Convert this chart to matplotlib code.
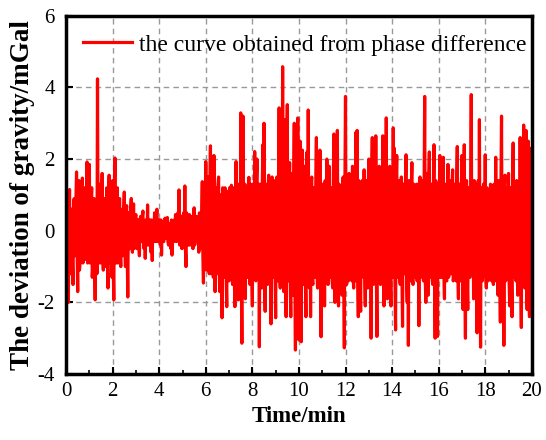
import numpy as np
import matplotlib
matplotlib.use('Agg')
import matplotlib.pyplot as plt
from matplotlib.ticker import MultipleLocator

# desviacion de gravedad (mGal), una fila por minuto
# g_rows: muestras en t = m + 0.05k ; g_half: muestras en t = m + 0.05k + 0.025
g_rows = [
    [0.3, 1.1, -2.0, 1.15, -1.2, 0.6, -1.5, 0.9, -0.4, 1.64, -1.7, 1.4, -0.9, 0.8, 1.47, -0.8, 1.2, -0.5, 1.92, -0.6],
    [1.85, -0.7, 1.2, -1.0, 0.9, -1.93, 0.5, 4.24, -0.9, 1.3, -0.6, 1.6, -1.1, 0.9, -0.5, 1.2, -1.6, 1.55, -0.8, 0.7],
    [1.4, -1.93, 2.03, -0.9, 1.2, -0.6, 0.9, -1.0, 0.6, -0.5, 1.08, -1.0, 0.7, -1.85, 0.5, -0.3, 0.9, -0.6, 0.75, -0.4],
    [0.45, -0.5, 0.3, -0.7, 0.4, -0.3, 0.55, -0.5, -0.77, 0.3, 0.72, -0.4, 0.3, -0.6, -0.83, 0.2, 0.5, -0.3, 0.6, -0.2],
    [0.3, -0.4, -0.68, 0.2, -0.3, 0.35, -0.2, 0.37, -0.4, 0.2, -0.5, -0.68, 0.1, 0.3, 0.45, -0.3, 0.5, 1.14, -0.2, 0.4],
    [-0.2, 0.5, 1.25, -1.0, 0.3, -0.4, 0.45, -0.3, 0.3, -0.5, 0.64, -0.2, 0.4, -0.3, -0.6, 0.4, -0.3, 1.37, -1.46, 0.8],
    [1.93, -1.0, 1.5, -1.2, 2.37, -1.1, 1.4, 2.1, -1.7, 1.2, -0.9, 1.5, -1.7, 0.9, -2.43, 1.15, -1.3, 1.0, -2.12, 1.0],
    [-1.4, 1.1, 1.27, -1.5, 0.9, -2.12, 1.93, -1.2, -1.93, 1.3, 3.29, -3.14, 3.2, -1.0, -1.9, 1.2, -1.3, 1.49, -1.5, 1.2],
    [-2.1, 1.0, 2.21, -1.4, 2.0, -1.2, -3.24, 1.3, -1.6, 2.4, 3.0, -2.25, 1.2, -1.5, 1.55, -1.0, -2.6, 1.5, -1.3, 1.1],
    [-2.43, 1.5, -1.2, 3.43, -1.6, 1.8, 4.58, -1.7, 3.1, -2.4, 3.52, -1.4, 1.9, -2.4, 1.6, -1.8, 3.0, -3.33, 1.4, 3.15],
    [-3.05, 2.5, -3.1, 2.25, -1.5, 1.8, -2.4, 2.2, 3.37, -1.6, -2.4, 1.5, -1.5, 1.2, -1.0, 2.6, -1.6, 1.4, 2.25, -2.96],
    [1.3, -1.4, -2.1, 1.2, 2.0, -1.5, 1.8, -1.2, 1.1, -1.6, 2.7, -2.0, 1.4, 2.8, -2.1, 1.2, -1.3, -1.8, 1.5, -3.27],
    [3.75, -1.5, 1.2, 1.6, -1.3, 1.0, 1.8, -1.6, 1.2, 2.75, 2.8, -2.4, 1.3, -2.25, -1.2, 1.4, 1.7, -2.1, 1.1, -1.6],
    [2.0, -1.4, -3.0, 2.6, -1.5, 1.3, 2.65, -2.95, 1.2, 1.8, -1.5, 1.0, 2.65, -2.1, 1.4, 3.15, -1.9, 1.1, 1.8, -2.1],
    [1.2, 2.87, 2.3, -2.77, 2.1, -1.3, 1.1, -1.5, 1.5, -2.67, 1.3, -1.2, 2.12, -2.0, -3.2, 1.0, -1.4, 1.9, -1.5, 1.0],
    [-1.3, 1.3, -1.1, -2.65, 1.5, -1.2, 1.0, -1.4, 3.75, -2.0, 1.6, -1.8, 2.2, -1.3, 1.2, -1.5, 2.4, -3.0, 1.3, -2.95],
    [1.2, 2.1, -1.3, 1.0, 2.05, -1.9, 1.1, -1.4, 1.85, -1.2, 1.0, -0.9, 1.7, -1.3, 1.3, -1.4, 2.35, -1.9, 1.3, -1.2],
    [2.1, -2.2, 2.4, -3.0, 1.4, -2.2, 1.2, -1.3, 3.8, -1.1, -1.9, 1.3, -1.2, -2.85, 1.4, 3.1, -3.25, 1.0, -1.0, 1.3],
    [2.12, -1.6, 1.0, 0.9, -1.0, 1.1, -0.9, -1.5, 1.2, 2.05, -1.2, -1.8, 1.0, -2.55, 3.2, -1.4, -3.2, 1.55, -1.3, 1.2],
    [1.6, -2.1, 1.2, -2.4, 2.45, -1.3, 1.2, 1.4, -1.8, 1.1, 2.6, -2.7, 1.5, 2.95, -1.6, 2.8, -2.2, 2.5, -2.4, 2.3],
]
g_half = [
    [-0.8, -0.6, 0.7, -0.9, 0.6, -1.0, 0.8, -0.7, 0.9, -0.6, 0.8, -1.1, 0.7, -0.5, -0.9, 0.6, -0.8, 0.7, -0.9, 1.0],
    [-0.9, 0.8, -1.3, 0.7, -0.8, 0.6, -1.2, -0.6, 0.7, -0.9, 0.8, -0.7, 0.9, -1.0, 0.6, -0.8, 0.7, -0.9, 1.1, -1.3],
    [-1.0, 0.9, -0.8, 0.7, -0.9, 0.8, -0.6, 0.5, -0.7, 0.6, -0.5, 0.4, -0.6, 0.5, -0.5, 0.6, -0.4, 0.5, -0.5, 0.4],
    [-0.4, 0.3, -0.4, 0.3, -0.3, 0.4, -0.3, 0.2, 0.3, -0.4, -0.3, 0.3, -0.3, 0.3, 0.2, -0.3, -0.2, 0.3, -0.3, 0.3],
    [-0.3, 0.3, 0.2, -0.3, 0.3, -0.2, 0.3, -0.3, 0.2, -0.4, 0.3, 0.2, -0.3, -0.2, -0.3, 0.3, -0.2, -0.4, 0.4, -0.5],
    [0.4, -0.4, -0.5, 0.5, -0.4, 0.3, -0.4, 0.4, -0.3, 0.3, -0.4, 0.4, -0.3, 0.3, 0.5, -0.5, 0.6, -0.7, 0.9, -1.0],
    [-1.1, 1.2, -1.0, 1.3, -1.2, 0.9, -1.3, -1.0, 1.1, -1.2, 1.3, -1.1, 1.0, -1.3, 1.2, -1.0, 1.2, -1.3, 1.1, -1.2],
    [1.2, -1.3, -1.1, 1.2, -1.3, 1.1, -1.2, 1.3, 1.1, -1.2, -1.3, 1.2, -1.4, 1.3, 1.1, -1.3, 1.2, -1.1, 1.3, -1.2],
    [1.3, -1.2, -1.3, 1.4, -1.2, 1.3, 1.2, -1.4, 1.1, -1.3, -1.2, 1.3, -1.4, 1.2, -1.3, 1.4, 1.2, -1.3, 1.4, -1.2],
    [1.3, -1.4, 1.2, -1.3, 1.4, -1.2, -1.4, 1.3, -1.2, 1.4, -1.3, 1.2, -1.4, 1.3, -1.2, 1.4, -1.3, 1.2, -1.4, -1.3],
    [1.4, -1.3, 1.2, -1.4, 1.3, -1.2, 1.4, -1.3, -1.4, 1.2, 1.3, -1.4, 1.2, -1.3, 1.4, -1.2, 1.3, -1.4, -1.3, 1.2],
    [-1.2, 1.3, 1.4, -1.3, -1.2, 1.4, -1.3, 1.2, -1.4, 1.3, -1.2, 1.4, -1.3, -1.2, 1.3, -1.4, 1.2, 1.3, -1.2, 1.4],
    [-1.3, 1.2, -1.4, -1.3, 1.2, -1.4, -1.2, 1.3, -1.4, -1.2, -1.3, 1.4, -1.2, 1.3, 1.4, -1.3, -1.2, 1.4, -1.3, 1.2],
    [-1.3, 1.2, 1.4, -1.3, 1.2, -1.4, -1.2, 1.3, -1.4, -1.2, 1.3, -1.4, -1.3, 1.2, -1.3, -1.4, 1.2, -1.3, -1.2, 1.4],
    [-1.3, -1.2, -1.4, 1.3, -1.2, 1.4, -1.3, 1.2, -1.4, 1.3, -1.2, 1.4, -1.3, 1.2, 1.4, -1.3, 1.2, -1.4, 1.3, -1.2],
    [1.2, -1.4, 1.3, 1.2, -1.3, 1.4, -1.2, 1.3, -1.4, 1.2, -1.3, 1.4, -1.2, 1.3, -1.4, 1.2, -1.3, 1.4, -1.2, 1.3],
    [-1.3, -1.2, 1.4, -1.3, -1.2, 1.3, -1.4, 1.2, -1.3, 1.4, -1.2, 1.3, -1.4, 1.2, -1.3, 1.4, -1.2, 1.3, -1.4, 1.2],
    [-1.3, 1.4, -1.2, 1.3, -1.4, 1.2, -1.3, 1.4, -1.2, 1.3, 1.4, -1.2, 1.3, 1.2, -1.4, -1.3, 1.2, -1.4, 1.3, -1.2],
    [-1.3, 1.2, -1.4, -1.2, 1.3, -1.4, 1.2, 1.3, -1.4, -1.2, 1.3, 1.4, -1.2, 1.3, -1.4, 1.2, 1.3, -1.4, 1.2, -1.3],
    [-1.4, 1.2, -1.3, 1.4, -1.2, 1.3, -1.4, -1.2, 1.3, -1.4, -1.2, 1.3, -1.4, -1.2, 1.3, -1.4, 1.2, -1.3, 1.2, -1.4],
]
g_last = [1.9]

gravedad = []
for fila, media in zip(g_rows, g_half):
    for a, b in zip(fila, media):
        gravedad.append(a)
        gravedad.append(b)
gravedad = gravedad + g_last
tiempo = np.linspace(0, 20, len(gravedad))

x_ticks = [0, 2, 4, 6, 8, 10, 12, 14, 16, 18, 20]
y_ticks = [-4, -2, 0, 2, 4, 6]

plt.rcParams['font.family'] = ['Liberation Serif', 'DejaVu Serif']
plt.rcParams['axes.unicode_minus'] = False

fig = plt.figure(figsize=(5.46, 4.40), dpi=100)
ax = fig.add_axes([0.121, 0.150, 0.853, 0.814])

ax.plot(tiempo, gravedad, color='#ff0000', linewidth=2.3,
        label='the curve obtained from phase difference')

ax.set_xlim(0, 20)
ax.set_ylim(-4, 6)
ax.set_xticks(x_ticks)
ax.set_yticks(y_ticks)
ax.xaxis.set_minor_locator(MultipleLocator(1))
ax.grid(True, which='major', linestyle=(0, (4, 3)), color='#999999', linewidth=1.0)

ax.tick_params(axis='x', which='major', direction='in', length=5, width=1.5,
               labelsize=15, pad=6)
ax.tick_params(axis='y', which='major', direction='in', length=5, width=1.5,
               labelsize=15, pad=8)
ax.tick_params(axis='x', which='minor', direction='in', length=3, width=1.2)
for s in ax.spines.values():
    s.set_linewidth(2.5)

ax.set_xlabel('Time/min', fontsize=16.5, fontweight='bold', labelpad=3)
ax.set_ylabel('The deviation of gravity/mGal', fontsize=19.5, fontweight='bold', labelpad=2)

ax.legend(loc='upper left', frameon=False, fontsize=17, handlelength=2.1,
          handletextpad=0.3, borderaxespad=0.3, bbox_to_anchor=(0.0, 0.995))

fig.savefig('out.png', dpi=100)
